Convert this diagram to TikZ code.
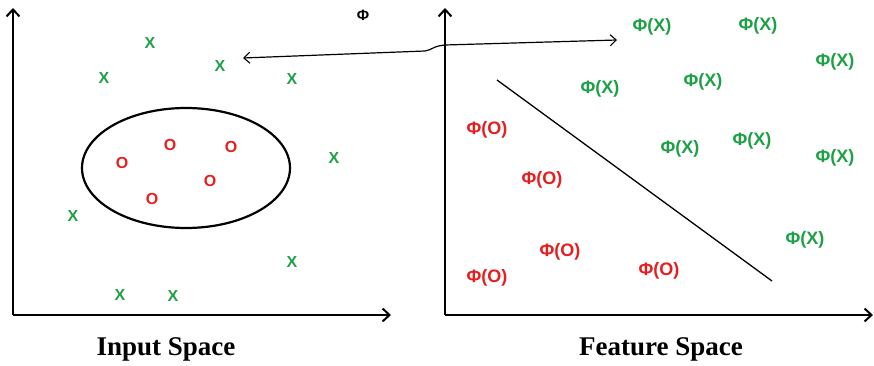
\documentclass[tikz,border=0pt]{standalone}
\usepackage{fontspec}
\setmainfont{Liberation Serif}
\setsansfont{Liberation Sans}
\usetikzlibrary{arrows.meta, positioning}

\definecolor{ptgreen}{RGB}{30,160,70}
\definecolor{ptred}{RGB}{230,30,30}

\begin{document}
\begin{tikzpicture}[
        x=1pt, y=-1pt,
        axis/.style={draw=black, line width=2.4pt, -{Straight Barb[length=7pt, width=13pt, line width=2pt]}},
        ptx/.style={text=ptgreen, font=\sffamily\bfseries\fontsize{16}{16}\selectfont, inner sep=0pt},
        pto/.style={text=ptred, font=\sffamily\bfseries\fontsize{16}{16}\selectfont, inner sep=0pt},
        fx/.style={text=ptgreen, font=\sffamily\bfseries\fontsize{18}{18}\selectfont, inner sep=0pt},
        fo/.style={text=ptred, font=\sffamily\bfseries\fontsize{18}{18}\selectfont, inner sep=0pt},
        caption/.style={font=\bfseries\fontsize{27}{30}\selectfont, inner sep=0pt},
        maparrow/.style={draw=black, line width=1.2pt, {Straight Barb[length=6pt, width=11pt, line width=1.1pt]}-{Straight Barb[length=6pt, width=11pt, line width=1.1pt]}}
    ]
        \useasboundingbox (0,0) rectangle (874,366);

        % input space
        \coordinate (inO) at (13,315);
        \coordinate (inY) at (13,8);
        \coordinate (inX) at (391,315);
        \draw[axis] (inO) -- (inY);
        \draw[axis] (inO) -- (inX);
        \draw[line width=2.2pt] (186,168) ellipse [x radius=104, y radius=60];

        \node[pto] (o1) at (170,145) {O};
        \node[pto] (o2) at (231,147) {O};
        \node[pto] (o3) at (122,163) {O};
        \node[pto] (o4) at (210,181) {O};
        \node[pto] (o5) at (152,199) {O};

        \node[ptx] (x1) at (150,43) {X};
        \node[ptx] (x2) at (220,66) {X};
        \node[ptx] (x3) at (104,78) {X};
        \node[ptx] (x4) at (292,79) {X};
        \node[ptx] (x5) at (334,158) {X};
        \node[ptx] (x6) at (73,216) {X};
        \node[ptx] (x7) at (292,262) {X};
        \node[ptx] (x8) at (120,295) {X};
        \node[ptx] (x9) at (173,296) {X};

        \node[caption] (incap) at (166,349) {Input Space};

        % feature space
        \coordinate (ftO) at (445,315);
        \coordinate (ftY) at (445,8);
        \coordinate (ftX) at (873,315);
        \draw[axis] (ftO) -- (ftY);
        \draw[axis] (ftO) -- (ftX);

        \node[fx] (fx1) at (652,27) {Φ(X)};
        \node[fx] (fx2) at (758,26) {Φ(X)};
        \node[fx] (fx3) at (835,62) {Φ(X)};
        \node[fx] (fx4) at (703,82) {Φ(X)};
        \node[fx] (fx5) at (600,89) {Φ(X)};
        \node[fx] (fx6) at (680,149) {Φ(X)};
        \node[fx] (fx7) at (752,141) {Φ(X)};
        \node[fx] (fx8) at (835,158) {Φ(X)};
        \node[fx] (fx9) at (805,240) {Φ(X)};

        \node[fo] (fo1) at (487,130) {Φ(O)};
        \node[fo] (fo2) at (542,180) {Φ(O)};
        \node[fo] (fo3) at (560,252) {Φ(O)};
        \node[fo] (fo4) at (487,278) {Φ(O)};
        \node[fo] (fo5) at (659,271) {Φ(O)};

        \coordinate (sepA) at (497,80);
        \coordinate (sepB) at (772,281);
        \draw[line width=1.3pt] (sepA) -- (sepB);

        \node[caption] (ftcap) at (661,349) {Feature Space};

        % mapping
        \node[font=\sffamily\bfseries\fontsize{15}{15}\selectfont, inner sep=0pt] (phi) at (363,15) {Φ};
        \coordinate (mapL) at (243,58);
        \coordinate (mapR) at (617,40);
        \draw[maparrow] (mapL) -- (425,51) .. controls (432,50) and (433,46) .. (445,45) -- (mapR);
    \end{tikzpicture}
\end{document}
